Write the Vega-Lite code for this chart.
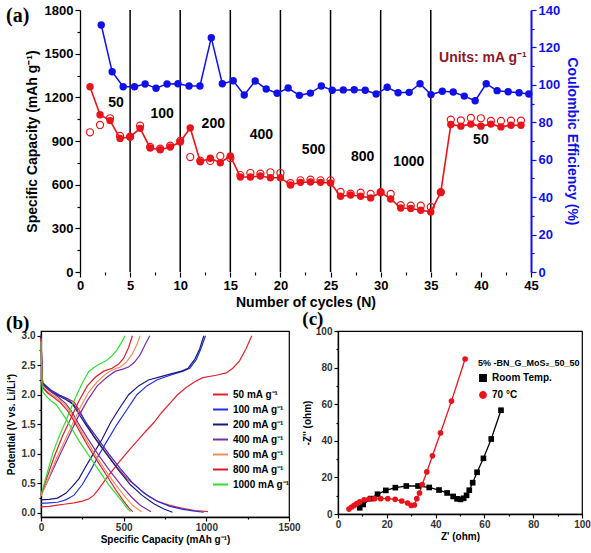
{
"$schema":"https://vega.github.io/schema/vega-lite/v6.json",
"background":"white",
"padding":{"left":5,"right":5,"top":4,"bottom":0},
"config":{"font":"Liberation Sans","view":{"stroke":"black","strokeWidth":1.2},
 "axis":{"labelFont":"Liberation Sans","titleFont":"Liberation Sans","labelFontWeight":"bold","titleFontWeight":"bold","domainColor":"black","tickColor":"black","labelColor":"black","titleColor":"black","grid":false,"labelOverlap":false,"labelFlush":false,"domainWidth":1.3,"tickWidth":1.2},
 "legend":{"labelFont":"Liberation Sans","titleFont":"Liberation Sans"}},
"datasets":{
"cap":[
{"n":1,"k":"d","v":1273},{"n":2,"k":"d","v":1080},{"n":3,"k":"d","v":1040},{"n":4,"k":"d","v":918},{"n":5,"k":"d","v":928},{"n":6,"k":"d","v":987},{"n":7,"k":"d","v":852},{"n":8,"k":"d","v":840},{"n":9,"k":"d","v":859},{"n":10,"k":"d","v":893},{"n":11,"k":"d","v":990},{"n":12,"k":"d","v":758},{"n":13,"k":"d","v":781},{"n":14,"k":"d","v":751},{"n":15,"k":"d","v":797},{"n":16,"k":"d","v":653},{"n":17,"k":"d","v":653},{"n":18,"k":"d","v":660},{"n":19,"k":"d","v":648},{"n":20,"k":"d","v":648},{"n":21,"k":"d","v":598},{"n":22,"k":"d","v":616},{"n":23,"k":"d","v":618},{"n":24,"k":"d","v":616},{"n":25,"k":"d","v":611},{"n":26,"k":"d","v":520},{"n":27,"k":"d","v":529},{"n":28,"k":"d","v":520},{"n":29,"k":"d","v":509},{"n":30,"k":"d","v":548},{"n":31,"k":"d","v":502},{"n":32,"k":"d","v":440},{"n":33,"k":"d","v":436},{"n":34,"k":"d","v":424},{"n":35,"k":"d","v":413},{"n":36,"k":"d","v":548},{"n":37,"k":"d","v":1013},{"n":38,"k":"d","v":1002},{"n":39,"k":"d","v":1016},{"n":40,"k":"d","v":1002},{"n":41,"k":"d","v":1016},{"n":42,"k":"d","v":997},{"n":43,"k":"d","v":1008},{"n":44,"k":"d","v":1008},
{"n":1,"k":"c","v":960},{"n":2,"k":"c","v":1010},{"n":3,"k":"c","v":1056},{"n":4,"k":"c","v":935},{"n":5,"k":"c","v":930},{"n":6,"k":"c","v":1005},{"n":7,"k":"c","v":860},{"n":8,"k":"c","v":848},{"n":9,"k":"c","v":868},{"n":10,"k":"c","v":900},{"n":11,"k":"c","v":790},{"n":12,"k":"c","v":765},{"n":13,"k":"c","v":763},{"n":14,"k":"c","v":797},{"n":15,"k":"c","v":783},{"n":16,"k":"c","v":666},{"n":17,"k":"c","v":680},{"n":18,"k":"c","v":675},{"n":19,"k":"c","v":685},{"n":20,"k":"c","v":680},{"n":21,"k":"c","v":610},{"n":22,"k":"c","v":630},{"n":23,"k":"c","v":634},{"n":24,"k":"c","v":630},{"n":25,"k":"c","v":630},{"n":26,"k":"c","v":550},{"n":27,"k":"c","v":538},{"n":28,"k":"c","v":545},{"n":29,"k":"c","v":536},{"n":30,"k":"c","v":548},{"n":31,"k":"c","v":536},{"n":32,"k":"c","v":459},{"n":33,"k":"c","v":456},{"n":34,"k":"c","v":456},{"n":35,"k":"c","v":447},{"n":36,"k":"c","v":548},{"n":37,"k":"c","v":1047},{"n":38,"k":"c","v":1042},{"n":39,"k":"c","v":1058},{"n":40,"k":"c","v":1056},{"n":41,"k":"c","v":1038},{"n":42,"k":"c","v":1038},{"n":43,"k":"c","v":1040},{"n":44,"k":"c","v":1040}],
"ce":[{"n":2.12,"e":132.0},{"n":3.21,"e":107.0},{"n":4.31,"e":99.0},{"n":5.44,"e":99.0},{"n":6.50,"e":100.5},{"n":7.59,"e":98.2},{"n":8.69,"e":100.5},{"n":9.78,"e":100.6},{"n":10.88,"e":99.4},{"n":11.97,"e":99.4},{"n":13.10,"e":125.2},{"n":14.20,"e":100.6},{"n":15.29,"e":102.2},{"n":16.39,"e":94.6},{"n":17.48,"e":102.1},{"n":18.58,"e":97.8},{"n":19.67,"e":95.5},{"n":20.77,"e":98.3},{"n":21.89,"e":94.4},{"n":22.99,"e":95.6},{"n":24.08,"e":99.4},{"n":25.17,"e":97.1},{"n":26.27,"e":97.3},{"n":27.36,"e":97.4},{"n":28.46,"e":97.1},{"n":29.55,"e":95.1},{"n":30.65,"e":98.7},{"n":31.74,"e":95.8},{"n":32.84,"e":96.0},{"n":33.93,"e":100.6},{"n":35.02,"e":94.8},{"n":36.15,"e":96.6},{"n":37.24,"e":96.2},{"n":38.34,"e":94.0},{"n":39.43,"e":91.5},{"n":40.53,"e":100.6},{"n":41.62,"e":96.9},{"n":42.72,"e":96.3},{"n":43.81,"e":95.8},{"n":44.78,"e":95.1}],
"lab":[{"n":3.6,"v":1160,"t":"50"},{"n":8.2,"v":1085,"t":"100"},{"n":13.3,"v":1017,"t":"200"},{"n":18.1,"v":941,"t":"400"},{"n":23.3,"v":840,"t":"500"},{"n":28.2,"v":792,"t":"800"},{"n":32.8,"v":758,"t":"1000"},{"n":40.0,"v":907,"t":"50"}],
"gcd":[
{"r":"50 mA g⁻¹","t":"c","x":0,"y":0.1},{"r":"50 mA g⁻¹","t":"c","x":50,"y":0.11},{"r":"50 mA g⁻¹","t":"c","x":100,"y":0.13},{"r":"50 mA g⁻¹","t":"c","x":150,"y":0.15},{"r":"50 mA g⁻¹","t":"c","x":200,"y":0.17},{"r":"50 mA g⁻¹","t":"c","x":250,"y":0.2},{"r":"50 mA g⁻¹","t":"c","x":290,"y":0.24},{"r":"50 mA g⁻¹","t":"c","x":320,"y":0.3},{"r":"50 mA g⁻¹","t":"c","x":351,"y":0.41},{"r":"50 mA g⁻¹","t":"c","x":400,"y":0.6},{"r":"50 mA g⁻¹","t":"c","x":472,"y":0.86},{"r":"50 mA g⁻¹","t":"c","x":520,"y":1.02},{"r":"50 mA g⁻¹","t":"c","x":573,"y":1.19},{"r":"50 mA g⁻¹","t":"c","x":630,"y":1.37},{"r":"50 mA g⁻¹","t":"c","x":683,"y":1.53},{"r":"50 mA g⁻¹","t":"c","x":730,"y":1.7},{"r":"50 mA g⁻¹","t":"c","x":775,"y":1.84},{"r":"50 mA g⁻¹","t":"c","x":826,"y":2.0},{"r":"50 mA g⁻¹","t":"c","x":876,"y":2.12},{"r":"50 mA g⁻¹","t":"c","x":930,"y":2.22},{"r":"50 mA g⁻¹","t":"c","x":978,"y":2.29},{"r":"50 mA g⁻¹","t":"c","x":1060,"y":2.33},{"r":"50 mA g⁻¹","t":"c","x":1120,"y":2.37},{"r":"50 mA g⁻¹","t":"c","x":1160,"y":2.45},{"r":"50 mA g⁻¹","t":"c","x":1200,"y":2.57},{"r":"50 mA g⁻¹","t":"c","x":1240,"y":2.78},{"r":"50 mA g⁻¹","t":"c","x":1275,"y":3.0},
{"r":"50 mA g⁻¹","t":"d","x":0,"y":3.0},{"r":"50 mA g⁻¹","t":"d","x":3,"y":2.7},{"r":"50 mA g⁻¹","t":"d","x":6,"y":2.4},{"r":"50 mA g⁻¹","t":"d","x":10,"y":2.2},{"r":"50 mA g⁻¹","t":"d","x":50,"y":2.08},{"r":"50 mA g⁻¹","t":"d","x":100,"y":2.0},{"r":"50 mA g⁻¹","t":"d","x":150,"y":1.95},{"r":"50 mA g⁻¹","t":"d","x":200,"y":1.88},{"r":"50 mA g⁻¹","t":"d","x":240,"y":1.7},{"r":"50 mA g⁻¹","t":"d","x":270,"y":1.53},{"r":"50 mA g⁻¹","t":"d","x":320,"y":1.3},{"r":"50 mA g⁻¹","t":"d","x":380,"y":1.07},{"r":"50 mA g⁻¹","t":"d","x":452,"y":0.8},{"r":"50 mA g⁻¹","t":"d","x":520,"y":0.58},{"r":"50 mA g⁻¹","t":"d","x":593,"y":0.41},{"r":"50 mA g⁻¹","t":"d","x":650,"y":0.28},{"r":"50 mA g⁻¹","t":"d","x":714,"y":0.185},{"r":"50 mA g⁻¹","t":"d","x":774,"y":0.13},{"r":"50 mA g⁻¹","t":"d","x":850,"y":0.08},{"r":"50 mA g⁻¹","t":"d","x":930,"y":0.04},{"r":"50 mA g⁻¹","t":"d","x":1010,"y":0.02},
{"r":"100 mA g⁻¹","t":"c","x":0,"y":0.16},{"r":"100 mA g⁻¹","t":"c","x":50,"y":0.17},{"r":"100 mA g⁻¹","t":"c","x":100,"y":0.18},{"r":"100 mA g⁻¹","t":"c","x":150,"y":0.22},{"r":"100 mA g⁻¹","t":"c","x":200,"y":0.3},{"r":"100 mA g⁻¹","t":"c","x":250,"y":0.48},{"r":"100 mA g⁻¹","t":"c","x":300,"y":0.72},{"r":"100 mA g⁻¹","t":"c","x":350,"y":0.98},{"r":"100 mA g⁻¹","t":"c","x":400,"y":1.22},{"r":"100 mA g⁻¹","t":"c","x":460,"y":1.5},{"r":"100 mA g⁻¹","t":"c","x":520,"y":1.75},{"r":"100 mA g⁻¹","t":"c","x":580,"y":2.0},{"r":"100 mA g⁻¹","t":"c","x":640,"y":2.15},{"r":"100 mA g⁻¹","t":"c","x":700,"y":2.25},{"r":"100 mA g⁻¹","t":"c","x":750,"y":2.3},{"r":"100 mA g⁻¹","t":"c","x":800,"y":2.35},{"r":"100 mA g⁻¹","t":"c","x":860,"y":2.4},{"r":"100 mA g⁻¹","t":"c","x":900,"y":2.45},{"r":"100 mA g⁻¹","t":"c","x":940,"y":2.6},{"r":"100 mA g⁻¹","t":"c","x":970,"y":2.8},{"r":"100 mA g⁻¹","t":"c","x":995,"y":3.0},
{"r":"100 mA g⁻¹","t":"d","x":0,"y":3.0},{"r":"100 mA g⁻¹","t":"d","x":3,"y":2.7},{"r":"100 mA g⁻¹","t":"d","x":6,"y":2.4},{"r":"100 mA g⁻¹","t":"d","x":10,"y":2.2},{"r":"100 mA g⁻¹","t":"d","x":60,"y":2.08},{"r":"100 mA g⁻¹","t":"d","x":109,"y":2.0},{"r":"100 mA g⁻¹","t":"d","x":160,"y":1.93},{"r":"100 mA g⁻¹","t":"d","x":200,"y":1.83},{"r":"100 mA g⁻¹","t":"d","x":240,"y":1.67},{"r":"100 mA g⁻¹","t":"d","x":280,"y":1.5},{"r":"100 mA g⁻¹","t":"d","x":340,"y":1.27},{"r":"100 mA g⁻¹","t":"d","x":410,"y":1.0},{"r":"100 mA g⁻¹","t":"d","x":480,"y":0.75},{"r":"100 mA g⁻¹","t":"d","x":550,"y":0.52},{"r":"100 mA g⁻¹","t":"d","x":620,"y":0.34},{"r":"100 mA g⁻¹","t":"d","x":700,"y":0.2},{"r":"100 mA g⁻¹","t":"d","x":780,"y":0.11},{"r":"100 mA g⁻¹","t":"d","x":860,"y":0.06},{"r":"100 mA g⁻¹","t":"d","x":930,"y":0.03},{"r":"100 mA g⁻¹","t":"d","x":985,"y":0.01},
{"r":"200 mA g⁻¹","t":"c","x":0,"y":0.22},{"r":"200 mA g⁻¹","t":"c","x":50,"y":0.23},{"r":"200 mA g⁻¹","t":"c","x":100,"y":0.25},{"r":"200 mA g⁻¹","t":"c","x":150,"y":0.33},{"r":"200 mA g⁻¹","t":"c","x":190,"y":0.45},{"r":"200 mA g⁻¹","t":"c","x":230,"y":0.58},{"r":"200 mA g⁻¹","t":"c","x":270,"y":0.78},{"r":"200 mA g⁻¹","t":"c","x":310,"y":0.97},{"r":"200 mA g⁻¹","t":"c","x":370,"y":1.25},{"r":"200 mA g⁻¹","t":"c","x":421,"y":1.53},{"r":"200 mA g⁻¹","t":"c","x":470,"y":1.75},{"r":"200 mA g⁻¹","t":"c","x":530,"y":2.0},{"r":"200 mA g⁻¹","t":"c","x":590,"y":2.15},{"r":"200 mA g⁻¹","t":"c","x":650,"y":2.25},{"r":"200 mA g⁻¹","t":"c","x":714,"y":2.3},{"r":"200 mA g⁻¹","t":"c","x":780,"y":2.35},{"r":"200 mA g⁻¹","t":"c","x":850,"y":2.4},{"r":"200 mA g⁻¹","t":"c","x":890,"y":2.45},{"r":"200 mA g⁻¹","t":"c","x":930,"y":2.6},{"r":"200 mA g⁻¹","t":"c","x":960,"y":2.78},{"r":"200 mA g⁻¹","t":"c","x":985,"y":3.0},
{"r":"200 mA g⁻¹","t":"d","x":0,"y":3.0},{"r":"200 mA g⁻¹","t":"d","x":3,"y":2.7},{"r":"200 mA g⁻¹","t":"d","x":6,"y":2.4},{"r":"200 mA g⁻¹","t":"d","x":10,"y":2.2},{"r":"200 mA g⁻¹","t":"d","x":60,"y":2.05},{"r":"200 mA g⁻¹","t":"d","x":109,"y":1.98},{"r":"200 mA g⁻¹","t":"d","x":150,"y":1.92},{"r":"200 mA g⁻¹","t":"d","x":189,"y":1.85},{"r":"200 mA g⁻¹","t":"d","x":230,"y":1.67},{"r":"200 mA g⁻¹","t":"d","x":270,"y":1.5},{"r":"200 mA g⁻¹","t":"d","x":330,"y":1.25},{"r":"200 mA g⁻¹","t":"d","x":400,"y":0.98},{"r":"200 mA g⁻¹","t":"d","x":470,"y":0.72},{"r":"200 mA g⁻¹","t":"d","x":540,"y":0.48},{"r":"200 mA g⁻¹","t":"d","x":610,"y":0.3},{"r":"200 mA g⁻¹","t":"d","x":680,"y":0.16},{"r":"200 mA g⁻¹","t":"d","x":740,"y":0.07},{"r":"200 mA g⁻¹","t":"d","x":795,"y":0.01},
{"r":"400 mA g⁻¹","t":"c","x":0,"y":0.3},{"r":"400 mA g⁻¹","t":"c","x":50,"y":0.6},{"r":"400 mA g⁻¹","t":"c","x":100,"y":0.9},{"r":"400 mA g⁻¹","t":"c","x":160,"y":1.25},{"r":"400 mA g⁻¹","t":"c","x":220,"y":1.6},{"r":"400 mA g⁻¹","t":"c","x":280,"y":1.9},{"r":"400 mA g⁻¹","t":"c","x":340,"y":2.15},{"r":"400 mA g⁻¹","t":"c","x":400,"y":2.3},{"r":"400 mA g⁻¹","t":"c","x":450,"y":2.4},{"r":"400 mA g⁻¹","t":"c","x":490,"y":2.43},{"r":"400 mA g⁻¹","t":"c","x":530,"y":2.47},{"r":"400 mA g⁻¹","t":"c","x":565,"y":2.55},{"r":"400 mA g⁻¹","t":"c","x":600,"y":2.68},{"r":"400 mA g⁻¹","t":"c","x":630,"y":2.85},{"r":"400 mA g⁻¹","t":"c","x":658,"y":3.0},
{"r":"400 mA g⁻¹","t":"d","x":0,"y":2.95},{"r":"400 mA g⁻¹","t":"d","x":3,"y":2.6},{"r":"400 mA g⁻¹","t":"d","x":6,"y":2.35},{"r":"400 mA g⁻¹","t":"d","x":10,"y":2.17},{"r":"400 mA g⁻¹","t":"d","x":50,"y":2.07},{"r":"400 mA g⁻¹","t":"d","x":100,"y":1.97},{"r":"400 mA g⁻¹","t":"d","x":150,"y":1.85},{"r":"400 mA g⁻¹","t":"d","x":190,"y":1.7},{"r":"400 mA g⁻¹","t":"d","x":225,"y":1.52},{"r":"400 mA g⁻¹","t":"d","x":280,"y":1.27},{"r":"400 mA g⁻¹","t":"d","x":350,"y":0.97},{"r":"400 mA g⁻¹","t":"d","x":420,"y":0.7},{"r":"400 mA g⁻¹","t":"d","x":490,"y":0.45},{"r":"400 mA g⁻¹","t":"d","x":550,"y":0.26},{"r":"400 mA g⁻¹","t":"d","x":600,"y":0.13},{"r":"400 mA g⁻¹","t":"d","x":640,"y":0.06},{"r":"400 mA g⁻¹","t":"d","x":665,"y":0.02},
{"r":"500 mA g⁻¹","t":"c","x":0,"y":0.28},{"r":"500 mA g⁻¹","t":"c","x":40,"y":0.55},{"r":"500 mA g⁻¹","t":"c","x":90,"y":0.9},{"r":"500 mA g⁻¹","t":"c","x":140,"y":1.2},{"r":"500 mA g⁻¹","t":"c","x":190,"y":1.5},{"r":"500 mA g⁻¹","t":"c","x":240,"y":1.8},{"r":"500 mA g⁻¹","t":"c","x":290,"y":2.05},{"r":"500 mA g⁻¹","t":"c","x":340,"y":2.22},{"r":"500 mA g⁻¹","t":"c","x":390,"y":2.35},{"r":"500 mA g⁻¹","t":"c","x":430,"y":2.42},{"r":"500 mA g⁻¹","t":"c","x":480,"y":2.47},{"r":"500 mA g⁻¹","t":"c","x":515,"y":2.55},{"r":"500 mA g⁻¹","t":"c","x":550,"y":2.68},{"r":"500 mA g⁻¹","t":"c","x":580,"y":2.85},{"r":"500 mA g⁻¹","t":"c","x":599,"y":3.0},
{"r":"500 mA g⁻¹","t":"d","x":0,"y":2.95},{"r":"500 mA g⁻¹","t":"d","x":3,"y":2.6},{"r":"500 mA g⁻¹","t":"d","x":6,"y":2.3},{"r":"500 mA g⁻¹","t":"d","x":10,"y":2.15},{"r":"500 mA g⁻¹","t":"d","x":40,"y":2.05},{"r":"500 mA g⁻¹","t":"d","x":90,"y":1.96},{"r":"500 mA g⁻¹","t":"d","x":140,"y":1.85},{"r":"500 mA g⁻¹","t":"d","x":180,"y":1.7},{"r":"500 mA g⁻¹","t":"d","x":210,"y":1.55},{"r":"500 mA g⁻¹","t":"d","x":260,"y":1.3},{"r":"500 mA g⁻¹","t":"d","x":320,"y":1.02},{"r":"500 mA g⁻¹","t":"d","x":380,"y":0.76},{"r":"500 mA g⁻¹","t":"d","x":440,"y":0.52},{"r":"500 mA g⁻¹","t":"d","x":500,"y":0.3},{"r":"500 mA g⁻¹","t":"d","x":550,"y":0.14},{"r":"500 mA g⁻¹","t":"d","x":585,"y":0.06},{"r":"500 mA g⁻¹","t":"d","x":610,"y":0.02},
{"r":"800 mA g⁻¹","t":"c","x":0,"y":0.3},{"r":"800 mA g⁻¹","t":"c","x":30,"y":0.55},{"r":"800 mA g⁻¹","t":"c","x":80,"y":0.95},{"r":"800 mA g⁻¹","t":"c","x":130,"y":1.3},{"r":"800 mA g⁻¹","t":"c","x":180,"y":1.6},{"r":"800 mA g⁻¹","t":"c","x":230,"y":1.9},{"r":"800 mA g⁻¹","t":"c","x":280,"y":2.15},{"r":"800 mA g⁻¹","t":"c","x":330,"y":2.3},{"r":"800 mA g⁻¹","t":"c","x":380,"y":2.4},{"r":"800 mA g⁻¹","t":"c","x":430,"y":2.45},{"r":"800 mA g⁻¹","t":"c","x":470,"y":2.52},{"r":"800 mA g⁻¹","t":"c","x":500,"y":2.62},{"r":"800 mA g⁻¹","t":"c","x":530,"y":2.8},{"r":"800 mA g⁻¹","t":"c","x":553,"y":3.0},
{"r":"800 mA g⁻¹","t":"d","x":0,"y":2.95},{"r":"800 mA g⁻¹","t":"d","x":3,"y":2.6},{"r":"800 mA g⁻¹","t":"d","x":6,"y":2.3},{"r":"800 mA g⁻¹","t":"d","x":10,"y":2.12},{"r":"800 mA g⁻¹","t":"d","x":40,"y":2.03},{"r":"800 mA g⁻¹","t":"d","x":80,"y":1.95},{"r":"800 mA g⁻¹","t":"d","x":120,"y":1.86},{"r":"800 mA g⁻¹","t":"d","x":160,"y":1.73},{"r":"800 mA g⁻¹","t":"d","x":190,"y":1.6},{"r":"800 mA g⁻¹","t":"d","x":220,"y":1.45},{"r":"800 mA g⁻¹","t":"d","x":280,"y":1.15},{"r":"800 mA g⁻¹","t":"d","x":340,"y":0.88},{"r":"800 mA g⁻¹","t":"d","x":400,"y":0.62},{"r":"800 mA g⁻¹","t":"d","x":450,"y":0.4},{"r":"800 mA g⁻¹","t":"d","x":500,"y":0.2},{"r":"800 mA g⁻¹","t":"d","x":530,"y":0.09},{"r":"800 mA g⁻¹","t":"d","x":555,"y":0.02},
{"r":"1000 mA g⁻¹","t":"c","x":0,"y":0.3},{"r":"1000 mA g⁻¹","t":"c","x":30,"y":0.6},{"r":"1000 mA g⁻¹","t":"c","x":70,"y":1.0},{"r":"1000 mA g⁻¹","t":"c","x":110,"y":1.3},{"r":"1000 mA g⁻¹","t":"c","x":150,"y":1.55},{"r":"1000 mA g⁻¹","t":"c","x":200,"y":1.9},{"r":"1000 mA g⁻¹","t":"c","x":250,"y":2.2},{"r":"1000 mA g⁻¹","t":"c","x":290,"y":2.4},{"r":"1000 mA g⁻¹","t":"c","x":340,"y":2.5},{"r":"1000 mA g⁻¹","t":"c","x":391,"y":2.57},{"r":"1000 mA g⁻¹","t":"c","x":430,"y":2.66},{"r":"1000 mA g⁻¹","t":"c","x":460,"y":2.76},{"r":"1000 mA g⁻¹","t":"c","x":490,"y":2.9},{"r":"1000 mA g⁻¹","t":"c","x":508,"y":3.0},
{"r":"1000 mA g⁻¹","t":"d","x":0,"y":2.9},{"r":"1000 mA g⁻¹","t":"d","x":3,"y":2.5},{"r":"1000 mA g⁻¹","t":"d","x":6,"y":2.2},{"r":"1000 mA g⁻¹","t":"d","x":10,"y":2.05},{"r":"1000 mA g⁻¹","t":"d","x":30,"y":1.98},{"r":"1000 mA g⁻¹","t":"d","x":60,"y":1.9},{"r":"1000 mA g⁻¹","t":"d","x":89,"y":1.84},{"r":"1000 mA g⁻¹","t":"d","x":120,"y":1.72},{"r":"1000 mA g⁻¹","t":"d","x":149,"y":1.6},{"r":"1000 mA g⁻¹","t":"d","x":170,"y":1.5},{"r":"1000 mA g⁻¹","t":"d","x":230,"y":1.22},{"r":"1000 mA g⁻¹","t":"d","x":290,"y":0.97},{"r":"1000 mA g⁻¹","t":"d","x":350,"y":0.72},{"r":"1000 mA g⁻¹","t":"d","x":411,"y":0.47},{"r":"1000 mA g⁻¹","t":"d","x":460,"y":0.3},{"r":"1000 mA g⁻¹","t":"d","x":492,"y":0.19},{"r":"1000 mA g⁻¹","t":"d","x":520,"y":0.08},{"r":"1000 mA g⁻¹","t":"d","x":542,"y":0.02}],
"eis":[
{"s":"Room Temp.","x":8.9,"y":3.4},{"s":"Room Temp.","x":10.3,"y":5.2},{"s":"Room Temp.","x":13.4,"y":8.4},{"s":"Room Temp.","x":16.2,"y":10.8},{"s":"Room Temp.","x":19.6,"y":12.9},{"s":"Room Temp.","x":23.5,"y":14.4},{"s":"Room Temp.","x":28.0,"y":15.3},{"s":"Room Temp.","x":32.8,"y":15.3},{"s":"Room Temp.","x":37.4,"y":14.5},{"s":"Room Temp.","x":41.4,"y":13.1},{"s":"Room Temp.","x":44.7,"y":11.5},{"s":"Room Temp.","x":47.2,"y":9.6},{"s":"Room Temp.","x":48.8,"y":8.3},{"s":"Room Temp.","x":50.2,"y":8.0},{"s":"Room Temp.","x":51.5,"y":8.6},{"s":"Room Temp.","x":52.7,"y":10.2},{"s":"Room Temp.","x":53.8,"y":13.0},{"s":"Room Temp.","x":55.2,"y":17.1},{"s":"Room Temp.","x":57.0,"y":22.8},{"s":"Room Temp.","x":59.6,"y":30.4},{"s":"Room Temp.","x":62.8,"y":41.0},{"s":"Room Temp.","x":66.8,"y":56.7},
{"s":"70 °C","x":4.5,"y":2.7},{"s":"70 °C","x":5.6,"y":3.8},{"s":"70 °C","x":6.6,"y":4.7},{"s":"70 °C","x":7.7,"y":5.7},{"s":"70 °C","x":8.9,"y":6.6},{"s":"70 °C","x":10.7,"y":7.8},{"s":"70 °C","x":12.7,"y":8.2},{"s":"70 °C","x":15.0,"y":8.4},{"s":"70 °C","x":17.5,"y":8.4},{"s":"70 °C","x":20.4,"y":8.4},{"s":"70 °C","x":23.4,"y":8.0},{"s":"70 °C","x":26.1,"y":7.1},{"s":"70 °C","x":28.5,"y":6.0},{"s":"70 °C","x":30.0,"y":4.7},{"s":"70 °C","x":31.3,"y":4.9},{"s":"70 °C","x":32.3,"y":8.4},{"s":"70 °C","x":33.4,"y":11.5},{"s":"70 °C","x":34.5,"y":16.1},{"s":"70 °C","x":36.4,"y":23.0},{"s":"70 °C","x":38.7,"y":31.8},{"s":"70 °C","x":42.0,"y":44.3},{"s":"70 °C","x":46.5,"y":61.7},{"s":"70 °C","x":52.1,"y":84.7}]
},
"spacing":0,
"resolve":{"scale":{"color":"independent","shape":"independent"},"legend":{"color":"independent","shape":"independent"}},
"vconcat":[
{
 "width":490,"height":262,
 "view":{"stroke":null},
 "title":{"text":"(a)","anchor":"start","frame":"bounds","font":"Liberation Serif","fontSize":20,"fontWeight":"bold","color":"black","dx":-19,"dy":22,"offset":0},
 "encoding":{"x":{"field":"n","type":"quantitative","scale":{"domain":[-3.89,45],"nice":false,"zero":false},
   "axis":{"title":"Number of cycles (N)","titleX":264.5,"domain":false,"values":[0,2.5,5,7.5,10,12.5,15,17.5,20,22.5,25,27.5,30,32.5,35,37.5,40,42.5,45],"labelExpr":"datum.value % 5 === 0 ? datum.label : ''","tickSize":{"condition":{"test":"datum.value % 5 === 0","value":5},"value":3},"labelFontSize":13,"titleFontSize":14,"titlePadding":3}}},
 "layer":[
  {"data":{"values":[{"n":5},{"n":10},{"n":15},{"n":20},{"n":25},{"n":30},{"n":35}]},"mark":{"type":"rule","color":"black","strokeWidth":1.5},"encoding":{}},
  {"encoding":{"y":{"field":"v","type":"quantitative","scale":{"domain":[0,1800],"nice":false},
     "axis":{"title":"Specific Capacity (mAh g⁻¹)","offset":-39,"values":[0,150,300,450,600,750,900,1050,1200,1350,1500,1650,1800],"format":"d","labelExpr":"datum.value % 300 === 0 ? datum.label : ''","tickSize":{"condition":{"test":"datum.value % 300 === 0","value":5},"value":3},"labelFontSize":13,"titleFontSize":14,"titlePadding":5}}},
   "layer":[
    {"mark":{"type":"rule","color":"black","strokeWidth":1.3},"encoding":{"x":{"datum":0},"x2":{"datum":45},"y":{"datum":0}}},
    {"mark":{"type":"rule","color":"black","strokeWidth":1.3},"encoding":{"x":{"datum":0},"x2":{"datum":45},"y":{"datum":1800}}},
    {"data":{"name":"cap"},"transform":[{"filter":"datum.k === 'c'"}],"mark":{"type":"point","shape":"circle","filled":false,"color":"#E8141B","size":50,"strokeWidth":1.2,"opacity":1}},
    {"data":{"name":"cap"},"transform":[{"filter":"datum.k === 'd'"}],"mark":{"type":"line","color":"#E8141B","strokeWidth":1.6}},
    {"data":{"name":"cap"},"transform":[{"filter":"datum.k === 'd'"}],"mark":{"type":"circle","color":"#E8141B","size":55,"opacity":1}},
    {"data":{"name":"lab"},"mark":{"type":"text","fontSize":14,"fontWeight":"bold","color":"black"},"encoding":{"text":{"field":"t"}}},
    {"data":{"values":[{"n":40.2,"v":1470,"t":"Units: mA g⁻¹"}]},"mark":{"type":"text","fontSize":14,"fontWeight":"bold","color":"#8B1A2A"},"encoding":{"text":{"field":"t"}}}
   ]},
  {"data":{"name":"ce"},
   "encoding":{"y":{"field":"e","type":"quantitative","scale":{"domain":[0,140],"nice":false},
     "axis":{"orient":"right","title":"Coulombic Efficiency (%)","values":[0,10,20,30,40,50,60,70,80,90,100,110,120,130,140],"labelExpr":"datum.value % 20 === 0 ? datum.label : ''","tickSize":{"condition":{"test":"datum.value % 20 === 0","value":5},"value":3},"labelFontSize":13,"titleFontSize":14,"titlePadding":5,"domainColor":"#1010E8","tickColor":"#1010E8","labelColor":"#1010E8","titleColor":"#1010E8","domainWidth":2}}},
   "layer":[
    {"mark":{"type":"line","color":"#1010E8","strokeWidth":1.5}},
    {"mark":{"type":"circle","color":"#1010E8","size":55,"opacity":1}}
   ]}
 ],
 "resolve":{"scale":{"y":"independent"}}
},
{
 "spacing":0,
 "resolve":{"scale":{"color":"independent","shape":"independent"},"legend":{"color":"independent","shape":"independent"}},
 "hconcat":[
 {
  "width":248,"height":186,
  "title":{"text":"(b)","anchor":"start","frame":"bounds","font":"Liberation Serif","fontSize":19,"fontWeight":"bold","color":"black","offset":-2},
  "data":{"name":"gcd"},
  "mark":{"type":"line","strokeWidth":1.2},
  "encoding":{
   "x":{"field":"x","type":"quantitative","scale":{"domain":[0,1500],"nice":false},
     "axis":{"title":"Specific Capacity (mAh g⁻¹)","values":[0,250,500,750,1000,1250,1500],"format":"d","labelExpr":"datum.value % 500 === 0 ? datum.label : ''","tickSize":{"condition":{"test":"datum.value % 500 === 0","value":4},"value":2},"labelFontSize":10,"titleFontSize":10,"titlePadding":2,"labelPadding":1,"labelColor":"#333"}},
   "y":{"field":"y","type":"quantitative","scale":{"domain":[-0.07,3.08],"nice":false,"zero":false},
     "axis":{"title":"Potential (V vs. Li/Li⁺)","values":[0,0.25,0.5,0.75,1,1.25,1.5,1.75,2,2.25,2.5,2.75,3],"labelExpr":"(datum.value*2) % 1 === 0 ? format(datum.value,'.1f') : ''","tickSize":{"condition":{"test":"(datum.value*2) % 1 === 0","value":4},"value":2},"labelFontSize":10,"titleFontSize":10,"titlePadding":5,"labelColor":"#333"}},
   "color":{"field":"r","type":"nominal","scale":{"domain":["50 mA g⁻¹","100 mA g⁻¹","200 mA g⁻¹","400 mA g⁻¹","500 mA g⁻¹","800 mA g⁻¹","1000 mA g⁻¹"],"range":["#E0242C","#2233DD","#1A1A7A","#7B2FA8","#F0905A","#D81E2E","#33DD33"]},
     "legend":{"orient":"none","legendX":171,"legendY":55,"title":null,"symbolType":"stroke","symbolSize":225,"symbolStrokeWidth":2,"labelFontSize":10,"labelFontWeight":"bold","labelColor":"black","rowPadding":1}},
   "detail":{"field":"t"}
  }
 },
 {
  "width":244,"height":183,
  "title":{"text":"(c)","anchor":"start","frame":"bounds","font":"Liberation Serif","fontSize":19,"fontWeight":"bold","color":"black","offset":-3},
  "data":{"name":"eis"},
  "encoding":{
   "x":{"field":"x","type":"quantitative","scale":{"domain":[0,100],"nice":false},
     "axis":{"title":"Z' (ohm)","values":[0,10,20,30,40,50,60,70,80,90,100],"labelExpr":"datum.value % 20 === 0 ? datum.label : ''","tickSize":{"condition":{"test":"datum.value % 20 === 0","value":4},"value":2},"labelFontSize":10,"titleFontSize":10,"titlePadding":2,"labelPadding":1,"labelColor":"#333"}},
   "y":{"field":"y","type":"quantitative","scale":{"domain":[0,100],"nice":false},
     "axis":{"title":"-Z'' (ohm)","values":[0,10,20,30,40,50,60,70,80,90,100],"labelExpr":"datum.value % 20 === 0 ? datum.label : ''","tickSize":{"condition":{"test":"datum.value % 20 === 0","value":4},"value":2},"labelFontSize":10,"titleFontSize":10,"titlePadding":3,"labelColor":"#333"}},
   "color":{"field":"s","type":"nominal","scale":{"domain":["Room Temp.","70 °C"],"range":["black","#E8141B"]},
     "legend":{"orient":"none","legendX":140,"legendY":28,"title":"5% -BN_G_MoS₂_50_50","titleLimit":220,"titleFontSize":9,"titleFontWeight":"bold","labelFontSize":10,"labelFontWeight":"bold","labelColor":"black","symbolSize":40,"rowPadding":3}}
  },
  "layer":[
   {"mark":{"type":"line","strokeWidth":1.3}},
   {"mark":{"type":"point","filled":true,"size":32,"opacity":1},
    "encoding":{"shape":{"field":"s","type":"nominal","scale":{"domain":["Room Temp.","70 °C"],"range":["square","circle"]},
     "legend":{"orient":"none","legendX":140,"legendY":28,"title":"5% -BN_G_MoS₂_50_50","titleLimit":220,"titleFontSize":9,"titleFontWeight":"bold","labelFontSize":10,"labelFontWeight":"bold","labelColor":"black","symbolSize":40,"rowPadding":3}}}}
  ]
 }
 ]
}
]
}
